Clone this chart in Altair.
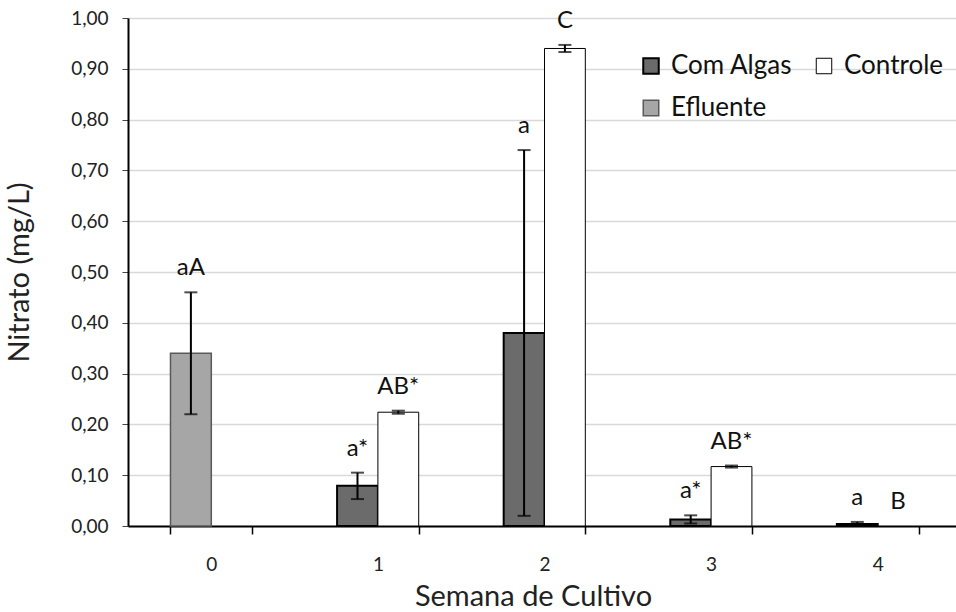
import altair as alt
import pandas as pd

# ---- data ----
semanas = ["0", "1", "2", "3", "4"]
series = ["Com Algas", "Efluente", "Controle"]

efluente_valor = [0.34, None, None, None, None]
efluente_erro = [0.12, None, None, None, None]
efluente_rotulo = ["aA", None, None, None, None]

algas_valor = [None, 0.079, 0.380, 0.013, 0.004]
algas_erro = [None, 0.026, 0.360, 0.008, 0.004]
algas_rotulo = [None, "a*", "a", "a*", "a"]

controle_valor = [None, 0.224, 0.940, 0.117, 0.0]
controle_erro = [None, 0.003, 0.007, 0.002, 0.0]
controle_rotulo = [None, "AB*", "C", "AB*", "B"]

rows = []
for nome, slot, vals, errs, rots in [
    ("Efluente", "L", efluente_valor, efluente_erro, efluente_rotulo),
    ("Com Algas", "L", algas_valor, algas_erro, algas_rotulo),
    ("Controle", "R", controle_valor, controle_erro, controle_rotulo),
]:
    for s, v, e, r in zip(semanas, vals, errs, rots):
        if v is None:
            continue
        rows.append({"semana": s, "serie": nome, "slot": slot, "valor": v,
                     "erro": e, "rotulo": r,
                     "lo": max(v - e, 0.0), "hi": v + e})
df = pd.DataFrame(rows)

FONT = "Lato"

x_enc = alt.X("semana:N", title="Semana de Cultivo",
              scale=alt.Scale(domain=semanas, paddingInner=0.51, paddingOuter=0.255,
                              range=[0, 833]),
              axis=alt.Axis(labelAngle=0, tickBand="extent", ticks=True, tickSize=8,
                            tickColor="black", tickWidth=1.5, domainColor="black",
                            domainWidth=2, labelFont=FONT, labelFontSize=19,
                            labelColor="#222", labelPadding=21, titleFont=FONT,
                            titleFontSize=29, titleFontWeight="normal",
                            titleColor="#222", titlePadding=8, titleX=405,
                            grid=False))
xoff = alt.XOffset("slot:N", scale=alt.Scale(domain=["L", "R"], paddingInner=0, paddingOuter=0))

y_axis = alt.Axis(values=[i / 10 for i in range(11)],
                  labelExpr="replace(format(datum.value, '.2f'), '.', ',')",
                  grid=True, gridColor="#d9d9d9", gridWidth=1.5,
                  domainColor="black", domainWidth=2, tickColor="#444", tickSize=6,
                  labelFont=FONT, labelFontSize=19, labelColor="#222", labelPadding=14,
                  titleFont=FONT, titleFontSize=29, titleFontWeight="normal",
                  titleColor="#222", titlePadding=36)

base = alt.Chart(df).encode(x=x_enc, xOffset=xoff)

bars = base.transform_filter("datum.valor > 0").mark_bar().encode(
    y=alt.Y("valor:Q", title="Nitrato  (mg/L)", scale=alt.Scale(domain=[0, 1], nice=False),
            axis=y_axis),
    fill=alt.Fill("serie:N",
                  scale=alt.Scale(domain=series, range=["#6b6b6b", "#a6a6a6", "#ffffff"]),
                  legend=alt.Legend(title=None, orient="none", legendX=510, legendY=35,
                                    columns=2, symbolType="square", symbolSize=240,
                                    symbolStrokeColor="black", symbolStrokeWidth=2,
                                    labelFont=FONT, labelFontSize=26, labelColor="#111",
                                    labelOffset=7, columnPadding=18, rowPadding=16,
                                    labelLimit=300)),
    stroke=alt.Stroke("serie:N",
                      scale=alt.Scale(domain=series, range=["#000000", "#5a5a5a", "#000000"]),
                      legend=None),
    strokeWidth=alt.StrokeWidth("serie:N",
                                scale=alt.Scale(domain=series, range=[2, 1, 2]),
                                legend=None),
)

err = base.transform_filter("datum.erro > 0")
rule = err.mark_rule(color="black", strokeWidth=2).encode(y="lo:Q", y2="hi:Q")
cap_hi = err.mark_tick(color="black", thickness=2, size=13).encode(y="hi:Q")
cap_lo = err.transform_filter("datum.valor - datum.erro > 0").mark_tick(
    color="black", thickness=2, size=13).encode(y="lo:Q")

labels = base.mark_text(font=FONT, fontSize=24, color="#111", baseline="alphabetic",
                        dy=-17).encode(y="hi:Q", text="rotulo:N")

chart = alt.layer(bars, rule, cap_hi, cap_lo, labels).properties(
    width=828, height=508,
    autosize=alt.AutoSizeParams(type="none"),
    padding={"left": 128, "top": 18, "right": 0, "bottom": 86},
).configure_view(stroke=None).configure(background="white")

chart.save("out.html", embed_options={"renderer": "svg", "actions": False})
